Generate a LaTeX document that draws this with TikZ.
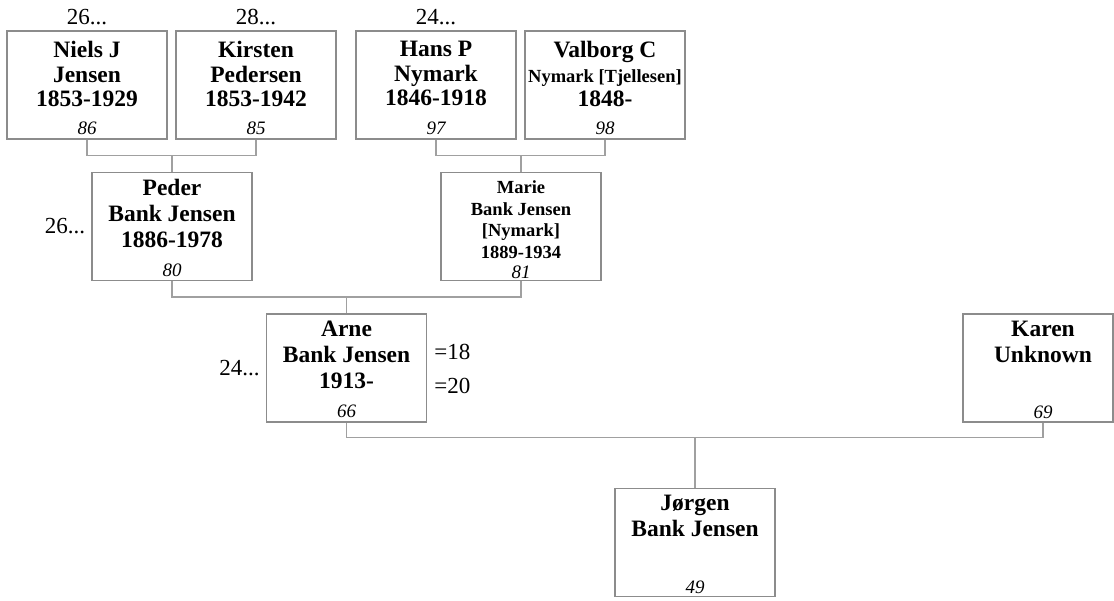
\documentclass[tikz,border=0pt]{standalone}
\usepackage{fontspec}
\setmainfont{Liberation Serif}
\usetikzlibrary{positioning}

\definecolor{boxgray}{RGB}{140,140,140}
\definecolor{linkgray}{RGB}{160,160,160}

\begin{document}
\begin{tikzpicture}[x=1pt,y=-1pt]
			\tikzstyle{person}=[draw=boxgray,line width=1.2pt,minimum width=160pt,minimum height=108pt,inner sep=0pt]
			\tikzstyle{who}=[anchor=north,align=center,inner sep=0pt]
			\tikzstyle{big}=[font=\bfseries\fontsize{23.5}{26}\selectfont,yshift=-7.5pt]
			\tikzstyle{top}=[font=\bfseries\fontsize{23.5}{24.5}\selectfont,yshift=-11pt]
			\tikzstyle{small}=[font=\bfseries\fontsize{18.5}{21.5}\selectfont,yshift=-9pt]
			\tikzstyle{num}=[anchor=base,yshift=5pt,inner sep=0pt,font=\fontsize{19}{19}\selectfont\itshape]
			\tikzstyle{more}=[inner sep=0pt,font=\fontsize{23}{23}\selectfont]
			\tikzstyle{link}=[draw=linkgray,line width=1.2pt]

			\useasboundingbox (0,0) rectangle (1114,601);

			\node[person,label={[who,top]north:{Niels J\\Jensen\\1853-1929}},label={[num]south:86}] (niels) at (87,85) {};
			\node[person,label={[who,top]north:{Kirsten\\Pedersen\\1853-1942}},label={[num]south:85}] (kirsten) at (256,85) {};
			\node[person,label={[who,top]north:{Hans P\\Nymark\\1846-1918}},label={[num]south:97}] (hans) at (436,85) {};
			\node[person,label={[who,top]north:{Valborg C\\{\fontsize{18.5}{21}\selectfont Nymark [Tjellesen]}\\1848-}},label={[num]south:98}] (valborg) at (605,85) {};
			\node[person,label={[who,big]north:{Peder\\Bank Jensen\\1886-1978}},label={[num]south:80}] (peder) at (172,226.5) {};
			\node[person,label={[who,small]north:{Marie\\Bank Jensen\\{[Nymark]}\\1889-1934}},label={[num,yshift=-2pt]south:81}] (marie) at (521,226.5) {};
			\node[person,label={[who,big]north:{Arne\\Bank Jensen\\1913-}},label={[num]south:66}] (arne) at (346.5,368) {};
			\node[person,minimum width=150pt,label={[who,big,xshift=5pt]north:{Karen\\Unknown}},label={[num,xshift=5pt,yshift=-1pt]south:69}] (karen) at (1038,368) {};
			\node[person,label={[who,big]north:{J\o rgen\\Bank Jensen}},label={[num,yshift=-1pt]south:49}] (jorgen) at (695,542.5) {};

			\node[more,above=5pt of niels] (nielsup) {26...};
			\node[more,above=5pt of kirsten] (kirstenup) {28...};
			\node[more,above=5pt of hans] (hansup) {24...};
			\node[more,left=6pt of peder] (pederup) {26...};
			\node[more,left=6pt of arne] (arneup) {24...};
			\node[more,anchor=base west] (arneone) at ([xshift=7pt,yshift=8pt]arne.east) {=18};
			\node[more,anchor=base west] (arnetwo) at ([xshift=7pt,yshift=-26pt]arne.east) {=20};

			\draw[link] (niels.south) -- ++(0,16) coordinate (nk) -| (kirsten.south);
			\draw[link] (peder.north) -- (peder.north |- nk);
			\draw[link] (hans.south) -- ++(0,16) coordinate (hv) -| (valborg.south);
			\draw[link] (marie.north) -- (marie.north |- hv);
			\draw[link] (peder.south) -- ++(0,16) coordinate (pm) -| (marie.south);
			\draw[link] (arne.north) -- (arne.north |- pm);
			\draw[link] (arne.south) -- ++(0,15) coordinate (ak) -| ([xshift=5pt]karen.south);
			\draw[link] (jorgen.north) -- (jorgen.north |- ak);
\end{tikzpicture}
\end{document}
